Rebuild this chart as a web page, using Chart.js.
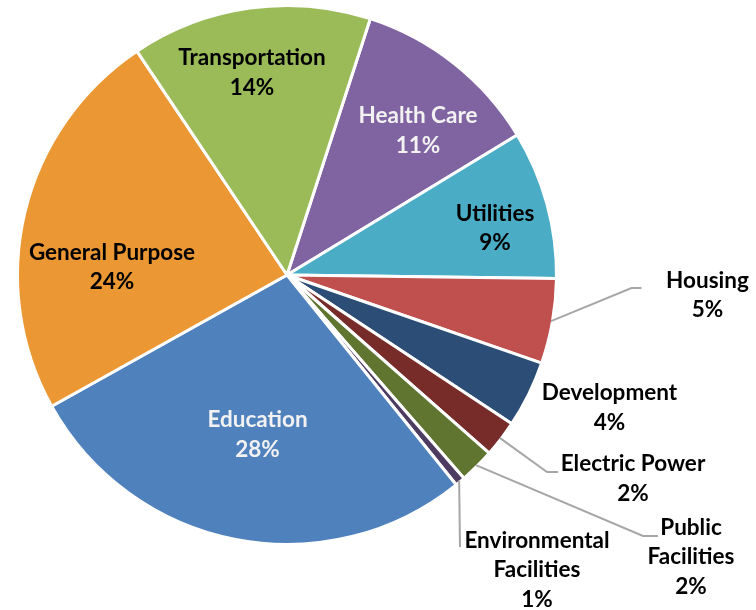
<!DOCTYPE html>
<html>
<head>
<meta charset="utf-8">
<script src="https://cdn.jsdelivr.net/npm/chart.js@4/dist/chart.umd.min.js"></script>
<style>
  html, body { margin: 0; padding: 0; background: #ffffff; }
  #wrap { width: 756px; height: 610px; }
</style>
</head>
<body>
<div id="wrap"><canvas id="c" width="756" height="610"></canvas></div>
<script>
// ---- data ----
const categories = ["Health Care", "Utilities", "Housing", "Development", "Electric Power",
  "Public Facilities", "Environmental\nFacilities", "Education", "General Purpose", "Transportation"];
const labelLines = [["Health Care"], ["Utilities"], ["Housing"], ["Development"], ["Electric Power"],
  ["Public", "Facilities"], ["Environmental", "Facilities"], ["Education"], ["General Purpose"], ["Transportation"]];
const shares = [11.3, 8.9, 5.1, 4.0, 2.2, 2.1, 0.6, 27.7, 23.7, 14.4];

// ---- style ----
const colors = ["#8064A2", "#4BACC6", "#C0504D", "#2C4D75", "#772C2A",
  "#5F7530", "#4D3B62", "#4F81BD", "#EB9733", "#9BBB59"];
const textColors = ["#F2F2F2", "#000000", "#000000", "#000000", "#000000",
  "#000000", "#000000", "#F2F2F2", "#000000", "#000000"];
// label block offsets from pie centre (px)
const labelOffsets = [[131, -144.5], [208, -47], [420.5, 20], [322.5, 132.5], [346, 203.5],
  [404, 282], [250, 295], [-29.5, 159.5], [-175, -8], [-35, -202.5]];
// leader line points relative to label block centre (null = no leader)
const leaders = [null, null, [[-76, -7], [-66, -7]], null, [[-86, -6.5], [-75, -6.5]],
  [[-48, -21], [-33, -21]], [[-77, -23]], null, null, null];
const FONT = "bold 22.5px Lato, 'Liberation Sans', sans-serif";
const LINE_H = 29.5;

const labelPlugin = {
  id: 'pieLabels',
  afterDatasetsDraw(chart) {
    const ctx = chart.ctx;
    const meta = chart.getDatasetMeta(0);
    const total = shares.reduce((a, b) => a + b, 0);
    meta.data.forEach((arc, i) => {
      const p = arc.getProps(['x', 'y', 'startAngle', 'endAngle', 'outerRadius'], true);
      const cx = p.x, cy = p.y;
      const bx = cx + labelOffsets[i][0];
      const by = cy + labelOffsets[i][1];
      // leader line
      if (leaders[i]) {
        const mid = (p.startAngle + p.endAngle) / 2;
        const sx = cx + Math.cos(mid) * (p.outerRadius - 1.5);
        const sy = cy + Math.sin(mid) * (p.outerRadius - 1.5);
        ctx.save();
        ctx.strokeStyle = '#A6A6A6';
        ctx.lineWidth = 2;
        ctx.beginPath();
        ctx.moveTo(sx, sy);
        leaders[i].forEach(pt => ctx.lineTo(bx + pt[0], by + pt[1]));
        ctx.stroke();
        ctx.restore();
      }
      const pct = Math.round(shares[i] / total * 100) + '%';
      const lines = labelLines[i].concat([pct]);
      ctx.save();
      ctx.font = FONT;
      ctx.fillStyle = textColors[i];
      ctx.textAlign = 'center';
      ctx.textBaseline = 'middle';
      const y0 = by - (lines.length - 1) * LINE_H / 2;
      lines.forEach((t, k) => ctx.fillText(t, bx, y0 + k * LINE_H));
      ctx.restore();
    });
  }
};

new Chart(document.getElementById('c'), {
  type: 'pie',
  data: {
    labels: categories,
    datasets: [{
      data: shares,
      backgroundColor: colors,
      borderColor: '#ffffff',
      borderWidth: 3
    }]
  },
  options: {
    responsive: false,
    animation: false,
    rotation: 18,
    layout: { padding: { left: 16, right: 198, top: 4, bottom: 64 } },
    plugins: { legend: { display: false }, tooltip: { enabled: false } }
  },
  plugins: [labelPlugin]
});
</script>
</body>
</html>
